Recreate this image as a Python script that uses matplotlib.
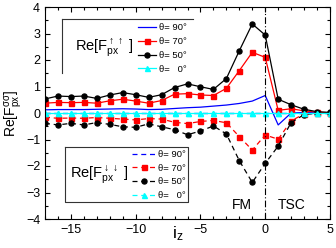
import matplotlib
matplotlib.use("Agg")
import matplotlib.pyplot as plt
from matplotlib.ticker import MultipleLocator
from matplotlib.lines import Line2D

plt.rcParams['font.family'] = ['Liberation Sans', 'DejaVu Sans']
plt.rcParams['mathtext.fontset'] = 'custom'
plt.rcParams['mathtext.rm'] = 'Liberation Sans'
plt.rcParams['mathtext.it'] = 'Liberation Sans'

iz = list(range(-17, 6))

up_90 = [0.12, 0.13, 0.13, 0.13, 0.14, 0.15, 0.16, 0.15, 0.13, 0.14, 0.17, 0.20,
         0.22, 0.26, 0.30, 0.36, 0.45, 0.66, -0.45, 0.00, 0.02, 0.01, 0.01]
up_70 = [0.37, 0.40, 0.39, 0.40, 0.37, 0.46, 0.52, 0.45, 0.37, 0.47, 0.71, 0.73,
         0.68, 0.66, 0.93, 1.60, 2.29, 2.10, 0.10, 0.16, 0.08, 0.03, 0.01]
up_50 = [0.53, 0.64, 0.62, 0.64, 0.55, 0.68, 0.77, 0.69, 0.59, 0.69, 0.96, 1.10,
         0.99, 0.89, 1.30, 2.35, 3.36, 2.94, 0.52, 0.31, 0.14, 0.05, 0.02]
up_0 = [0.0] * 23

dn_90 = [0.0] * 23
dn_70 = [-0.16, -0.20, -0.19, -0.20, -0.17, -0.20, -0.23, -0.26, -0.21, -0.23, -0.35, -0.40,
         -0.32, -0.28, -0.37, -0.89, -1.40, -0.83, -0.99, -0.30, -0.03, 0.0, 0.0]
dn_50 = [-0.39, -0.45, -0.39, -0.45, -0.36, -0.43, -0.52, -0.54, -0.41, -0.52, -0.63, -0.82,
         -0.68, -0.49, -0.79, -1.80, -2.62, -1.90, -1.25, -0.36, -0.06, -0.01, 0.0]
dn_0 = [0.0] * 23

labels = ['θ= 90°', 'θ= 70°', 'θ= 50°', 'θ=   0°']

W, H = 336, 248
fig = plt.figure(figsize=(W / 100, H / 100), dpi=100)
ax = fig.add_axes([45 / W, 1 - 219 / H, 285 / W, 212 / H])

lw = 0.9
ms = 3.6
# lower (dashed) series
l_d90, = ax.plot(iz, dn_90, color='#0000ff', ls='--', lw=lw, dashes=(4, 3))
l_d70, = ax.plot(iz, dn_70, color='#ff0000', ls='--', lw=lw, marker='s', ms=ms, dashes=(4, 3))
l_d50, = ax.plot(iz, dn_50, color='black', ls='--', lw=lw, marker='o', ms=ms, dashes=(4, 3))
l_d0, = ax.plot(iz, dn_0, color='#00ffff', ls='--', lw=lw, marker='^', ms=ms, dashes=(4, 3))
# upper (solid) series
l_u90, = ax.plot(iz, up_90, color='#0000ff', lw=lw)
l_u70, = ax.plot(iz, up_70, color='#ff0000', lw=lw, marker='s', ms=ms)
l_u50, = ax.plot(iz, up_50, color='black', lw=lw, marker='o', ms=ms)
l_u0, = ax.plot(iz, up_0, color='#00ffff', lw=lw, marker='^', ms=ms)

ax.axvline(0, color='black', lw=0.8, ls='-.', dashes=(6, 2, 1, 2))

ax.set_xlim(-17, 5)
ax.set_ylim(-4, 4)
ax.xaxis.set_major_locator(MultipleLocator(5))
ax.xaxis.set_minor_locator(MultipleLocator(1))
ax.yaxis.set_major_locator(MultipleLocator(1))
ax.yaxis.set_minor_locator(MultipleLocator(0.5))
ax.tick_params(which='both', direction='in', top=True, right=True, labelsize=9, width=0.8)
ax.tick_params(which='major', length=3.5)
ax.tick_params(which='minor', length=2)
for s in ax.spines.values():
    s.set_linewidth(0.8)

ax.set_ylabel(r'Re[F$_{px}^{\sigma\sigma}$]', fontsize=10, labelpad=1)
fig.text(178 / W, 1 - 234 / H, r'i$_z$', fontsize=12.5, ha='center', va='center')

ax.text(242 / W, 1 - 209 / H, 'FM', fontsize=10, ha='center', va='baseline', transform=fig.transFigure)
ax.text(292 / W, 1 - 209 / H, 'TSC', fontsize=10, ha='center', va='baseline', transform=fig.transFigure)

# upper legend
leg1 = ax.legend([l_u90, l_u70, l_u50, l_u0], labels, loc='upper left',
                 bbox_to_anchor=(138 / W, 1 - 23.5 / H), bbox_transform=fig.transFigure,
                 frameon=False, fontsize=6.8, handlelength=1.9, handletextpad=0.3,
                 labelspacing=0.5, borderpad=0, borderaxespad=0)
ax.add_artist(leg1)
leg2 = ax.legend([l_d90, l_d70, l_d50, l_d0], labels, loc='upper left',
                 bbox_to_anchor=(132 / W, 1 - 150 / H), bbox_transform=fig.transFigure,
                 frameon=False, fontsize=6.8, handlelength=2.5, handletextpad=0.25,
                 labelspacing=0.5, borderpad=0, borderaxespad=0)

# boxes
fig.add_artist(Line2D([62 / W, 193 / W], [1 - 19 / H, 1 - 19 / H], color='#333333', lw=0.8))
fig.add_artist(Line2D([62 / W, 62 / W], [1 - 19 / H, 1 - 73 / H], color='#333333', lw=0.8))
fig.add_artist(Line2D([65 / W, 188 / W, 188 / W, 65 / W, 65 / W],
                      [1 - 147 / H, 1 - 147 / H, 1 - 202 / H, 1 - 202 / H, 1 - 147 / H],
                      color='#333333', lw=0.8))

fig.text(75 / W, 1 - 51 / H, r'Re[F$_{px}^{\uparrow\uparrow}$ ]', fontsize=10.5, va='baseline')
fig.text(70 / W, 1 - 178 / H, r'Re[F$_{px}^{\downarrow\downarrow}$ ]', fontsize=10.5, va='baseline')

fig.savefig('out.png', dpi=100)
